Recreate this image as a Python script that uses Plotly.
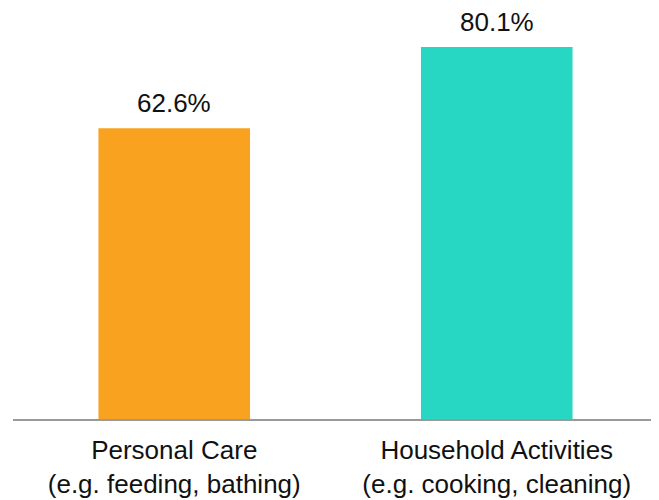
import plotly.graph_objects as go

categories = ["Personal Care<br>(e.g. feeding, bathing)",
              "Household Activities<br>(e.g. cooking, cleaning)"]
values = [62.6, 80.1]
value_labels = ["62.6%", "80.1%"]
colors = ["#F9A21F", "#27D7C4"]

FONT = "Liberation Sans, Arial, sans-serif"

fig = go.Figure()
fig.add_trace(go.Bar(x=categories, y=values, marker=dict(color=colors, line=dict(width=0)),
                     hoverinfo="skip"))

for c, v, t in zip(categories, values, value_labels):
    fig.add_annotation(x=c, y=v, text=t, showarrow=False, yanchor="bottom",
                       yshift=8, font=dict(size=26, color="#111111", family=FONT))

fig.update_layout(
    width=651, height=492,
    margin=dict(l=5, r=1, t=0, b=81, autoexpand=False),
    paper_bgcolor="white", plot_bgcolor="white",
    bargap=0.53,
    showlegend=False,
    font=dict(family=FONT, size=26, color="#111111"),
)
fig.update_xaxes(range=[-0.5, 1.5], showline=True, linecolor="#999999", linewidth=1.5,
                 showgrid=False, ticks="", ticklabelstandoff=7,
                 tickfont=dict(size=26, color="#111111"))
fig.update_yaxes(range=[0, 88.5], visible=False, showgrid=False, zeroline=False)

fig.write_html("out.html")
